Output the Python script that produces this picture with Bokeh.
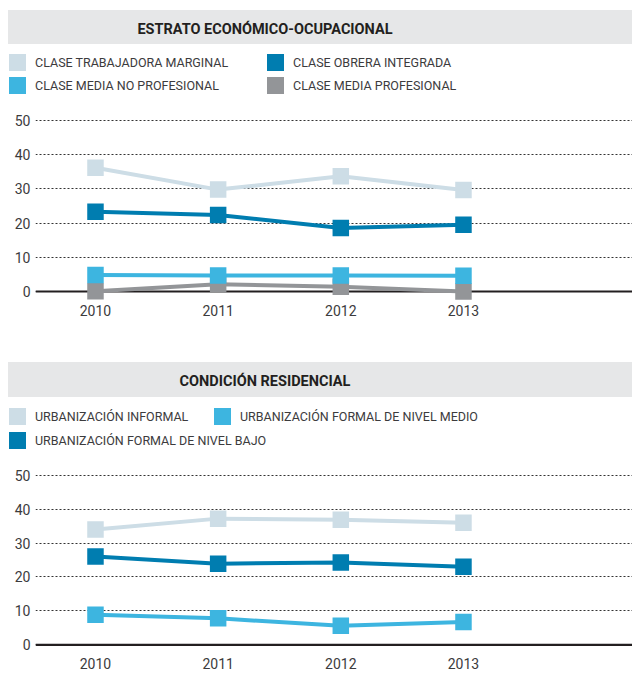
from bokeh.plotting import figure
from bokeh.models import ColumnDataSource, Range1d, FixedTicker, Span, Div
from bokeh.layouts import column
from bokeh.embed import file_html
from bokeh.resources import INLINE

# ---------------- data ----------------
years = [2010, 2011, 2012, 2013]
y_ticks = [0, 10, 20, 30, 40, 50]

title_top = "ESTRATO ECONÓMICO-OCUPACIONAL"
names_top = ["CLASE TRABAJADORA MARGINAL", "CLASE OBRERA INTEGRADA",
             "CLASE MEDIA NO PROFESIONAL", "CLASE MEDIA PROFESIONAL"]
trabajadora_marginal = [36.2, 29.8, 33.7, 29.7]
obrera_integrada = [23.3, 22.4, 18.6, 19.5]
media_no_profesional = [4.8, 4.7, 4.7, 4.6]
media_profesional = [0.1, 2.1, 1.4, 0.0]

title_bottom = "CONDICIÓN RESIDENCIAL"
names_bottom = ["URBANIZACIÓN INFORMAL", "URBANIZACIÓN FORMAL DE NIVEL MEDIO",
                "URBANIZACIÓN FORMAL DE NIVEL BAJO"]
urb_informal = [34.0, 37.2, 36.9, 36.0]
urb_formal_medio = [8.9, 7.8, 5.6, 6.7]
urb_formal_bajo = [26.0, 23.9, 24.3, 23.0]

# ---------------- style ----------------
FONT = "Roboto"
C_LIGHT = "#cddde6"
C_DARK = "#007db0"
C_MID = "#3db5e0"
C_GREY = "#939598"
TEXT = "#3c3b3d"
W = 624


def band(text, height, mtop):
    return Div(text=text, width=W, height=height, margin=(mtop, 0, 0, 8),
               styles={"background-color": "#e6e7e8", "color": "#231f20",
                       "font-family": FONT, "font-weight": "bold",
                       "font-size": "14.5px", "line-height": f"{height + 5}px",
                       "text-align": "center", "box-sizing": "border-box",
                       "padding-right": "110px"})


def key(height, entries):
    # entries: (label, colour, swatch_left, swatch_top)
    parts = []
    for label, color, left, top in entries:
        parts.append(
            f'<span style="position:absolute;left:{left}px;top:{top}px;width:17px;'
            f'height:17px;background:{color}"></span>'
            f'<span style="position:absolute;left:{left + 26}px;top:{top}px;'
            f'line-height:17px;white-space:nowrap">{label}</span>')
    html = (f'<div style="position:relative;width:{W}px;height:{height}px">'
            + "".join(parts) + "</div>")
    return Div(text=html, width=W, height=height, margin=(0, 0, 0, 8),
               styles={"font-family": FONT, "font-size": "12.5px", "color": TEXT})


def make_chart(height, y_start, y_end, min_bottom):
    p = figure(width=W, height=height, output_backend="svg", toolbar_location=None,
               x_range=Range1d(2009.511, 2014.378),
               y_range=Range1d(y_start, y_end), margin=(0, 0, 0, 8),
               min_border_left=27, min_border_right=0, min_border_top=0,
               min_border_bottom=min_bottom)
    p.title.visible = False
    p.outline_line_color = None
    p.xgrid.visible = False
    p.ygrid.ticker = FixedTicker(ticks=y_ticks)
    p.ygrid.grid_line_color = "#333333"
    p.ygrid.grid_line_dash = "2 2"
    p.ygrid.grid_line_width = 1
    for ax in (p.xaxis[0], p.yaxis[0]):
        ax.axis_line_color = None
        ax.major_tick_line_color = None
        ax.minor_tick_line_color = None
        ax.major_tick_out = 0
        ax.major_tick_in = 0
        ax.minor_tick_out = 0
        ax.major_label_text_font = FONT
        ax.major_label_text_font_size = "14px"
        ax.major_label_text_color = TEXT
    p.xaxis[0].ticker = FixedTicker(ticks=years)
    p.xaxis[0].major_label_standoff = 4
    p.yaxis[0].ticker = FixedTicker(ticks=y_ticks)
    p.yaxis[0].major_label_standoff = 5
    p.add_layout(Span(location=0, dimension="width", line_color="#231f20",
                      line_width=2.2, level="underlay"))
    return p


def add_series(chart, values, color):
    src = ColumnDataSource(dict(x=years, y=values))
    chart.line("x", "y", source=src, line_color=color, line_width=4)
    chart.scatter("x", "y", source=src, marker="square", size=16.5,
                  fill_color=color, line_color=None)


# ---------------- top panel ----------------
div1 = band(title_top, 34, 10)
key1 = key(53, [(names_top[0], C_LIGHT, 1, 10), (names_top[1], C_DARK, 259, 10),
                (names_top[2], C_MID, 1, 33), (names_top[3], C_GREY, 259, 33)])
p1 = make_chart(265, -2.63, 56.73, 62)
add_series(p1, media_profesional, C_GREY)
add_series(p1, media_no_profesional, C_MID)
add_series(p1, obrera_integrada, C_DARK)
add_series(p1, trabajadora_marginal, C_LIGHT)

# ---------------- bottom panel ----------------
div2 = band(title_bottom, 35, 0)
key2 = key(54, [(names_bottom[0], C_LIGHT, 1, 11), (names_bottom[1], C_MID, 206, 11),
                (names_bottom[2], C_DARK, 1, 35)])
p2 = make_chart(234, -2.56, 56.99, 32)
add_series(p2, urb_formal_medio, C_MID)
add_series(p2, urb_formal_bajo, C_DARK)
add_series(p2, urb_informal, C_LIGHT)

layout = column(div1, key1, p1, div2, key2, p2, spacing=0, margin=0)
open("out.html", "w").write(file_html(layout, INLINE))
